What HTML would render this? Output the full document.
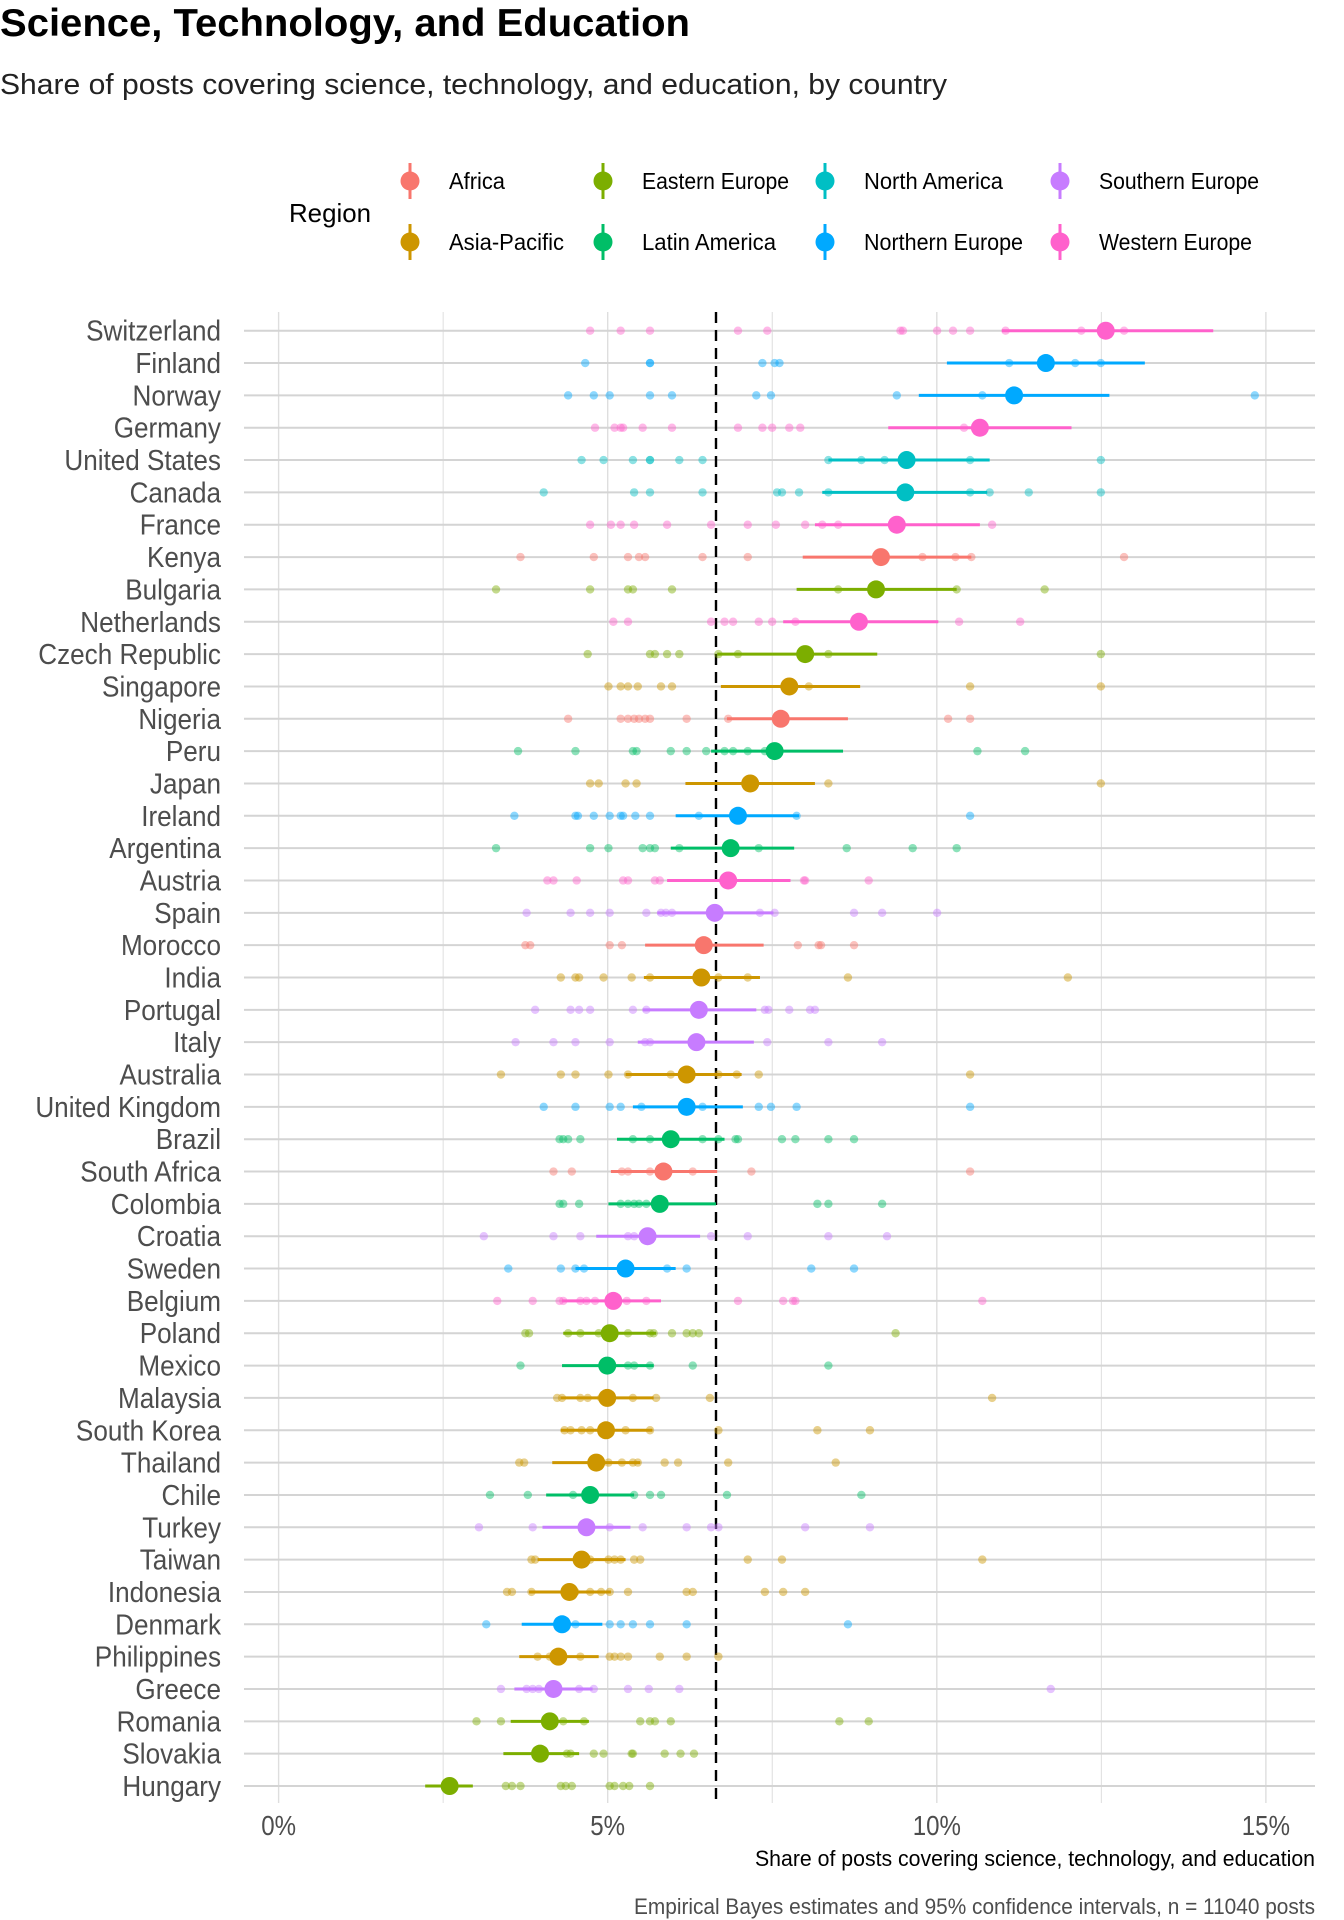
<!DOCTYPE html>
<html><head><meta charset="utf-8"><style>
html,body{margin:0;padding:0;background:#fff;}
svg{display:block;font-family:"Liberation Sans",sans-serif;}
</style></head><body>
<svg id="s" width="1344" height="1920" viewBox="0 0 1344 1920" xmlns="http://www.w3.org/2000/svg">
<rect width="1344" height="1920" fill="#fff"/>
<text x="0" y="36" font-size="39" font-weight="bold" textLength="690" lengthAdjust="spacingAndGlyphs" fill="#000">Science, Technology, and Education</text>
<text x="0" y="94" font-size="29" textLength="947" lengthAdjust="spacingAndGlyphs" fill="#222">Share of posts covering science, technology, and education, by country</text>
<text x="289" y="222" font-size="26" textLength="82" lengthAdjust="spacingAndGlyphs" fill="#000">Region</text>
<g id="leg"></g>
<g id="grid"></g>
<g id="data"></g>
<text x="1315" y="1866" font-size="22" text-anchor="end" textLength="560" lengthAdjust="spacingAndGlyphs" fill="#000">Share of posts covering science, technology, and education</text>
<text x="1315" y="1914" font-size="22" text-anchor="end" textLength="681" lengthAdjust="spacingAndGlyphs" fill="#4d4d4d">Empirical Bayes estimates and 95% confidence intervals, n = 11040 posts</text>
</svg>
<script>
var NS="http://www.w3.org/2000/svg";
function el(p,t,a,txt){var e=document.createElementNS(NS,t);for(var k in a)e.setAttribute(k,a[k]);if(txt!=null)e.textContent=txt;p.appendChild(e);return e;}
var C={A:"#F8766D",P:"#CD9600",E:"#7CAE00",L:"#00BE67",N:"#00BFC4",U:"#00A9FF",S:"#C77CFF",W:"#FF61CC"};
var leg=document.getElementById("leg");
var items=[["A","Africa",410,181,56],["P","Asia-Pacific",410,242,115],["E","Eastern Europe",603,181,147],["L","Latin America",603,242,134],["N","North America",825,181,139],["U","Northern Europe",825,242,159],["S","Southern Europe",1060,181,160],["W","Western Europe",1060,242,153]];
items.forEach(function(it){var c=C[it[0]];
el(leg,"line",{x1:it[2],x2:it[2],y1:it[3]-18,y2:it[3]+18,stroke:c,"stroke-width":3});
el(leg,"circle",{cx:it[2],cy:it[3],r:9.5,fill:c});
el(leg,"text",{x:it[2]+39,y:it[3]+8,"font-size":23,textLength:it[4],lengthAdjust:"spacingAndGlyphs",fill:"#000"},it[1]);});
var D=[
["Switzerland","W",905,820,993,[483,508,532,604,628,737,739,767,780,794,823,885,920]],
["Finland","U",856,775,937,[479,532,532,624,634,638,826,880,901]],
["Norway","U",830,752,908,[465,486,499,532,550,619,631,734,804,1027]],
["Germany","W",802,727,877,[487,503,508,510,526,550,604,624,632,646,655,789]],
["United States","N",742,678,810,[476,494,518,532,532,556,575,678,705,724,794,901]],
["Canada","N",741,673,808,[445,519,532,575,636,640,654,678,794,810,842,901]],
["France","W",734,667,802,[483,500,508,519,546,582,612,635,659,673,686,812]],
["Kenya","A",721,657,795,[426,486,514,523,528,575,612,755,782,795,920]],
["Bulgaria","E",717,652,783,[406,483,514,518,550,686,783,855]],
["Netherlands","W",703,641,768,[502,514,582,593,600,621,632,651,785,835]],
["Czech Republic","E",659,587,718,[481,532,536,546,556,588,604,678,901]],
["Singapore","P",646,590,704,[498,508,514,522,541,550,662,794,901]],
["Nigeria","A",639,595,694,[465,508,514,519,523,528,532,562,596,776,794]],
["Peru","L",634,582,690,[424,471,518,521,549,562,578,593,600,612,626,800,839]],
["Japan","P",614,561,667,[483,490,512,521,678,901]],
["Ireland","U",604,553,654,[421,471,473,486,499,508,510,520,532,572,652,794]],
["Argentina","L",598,549,650,[406,483,498,526,532,536,556,621,693,747,783]],
["Austria","W",596,546,647,[448,453,472,510,514,536,540,658,659,711]],
["Spain","S",585,538,633,[431,467,483,499,529,541,545,550,622,634,699,722,767]],
["Morocco","A",576,528,625,[430,434,499,509,653,670,672,699]],
["India","P",574,527,622,[459,471,474,494,517,532,588,612,694,874]],
["Portugal","S",572,526,619,[438,467,474,483,518,529,626,629,646,663,667]],
["Italy","S",570,522,617,[422,453,471,499,528,532,628,678,722]],
["Australia","P",562,512,607,[410,459,471,498,514,549,588,603,621,794]],
["United Kingdom","U",562,518,608,[445,471,499,508,525,575,621,631,652,794]],
["Brazil","L",549,505,593,[458,461,465,475,518,532,575,588,602,604,640,651,678,699]],
["South Africa","A",543,500,587,[453,468,509,514,532,567,615,794]],
["Colombia","L",540,498,586,[458,461,474,508,514,519,523,529,669,678,722]],
["Croatia","S",530,488,573,[396,453,475,514,519,529,582,612,678,726]],
["Sweden","U",512,471,553,[416,459,471,478,546,562,664,699]],
["Belgium","W",502,460,541,[407,436,458,461,475,480,487,513,529,604,641,649,651,804]],
["Poland","E",499,461,537,[430,433,465,475,490,514,532,535,550,562,567,572,733]],
["Mexico","L",497,460,535,[426,496,514,519,532,567,678]],
["Malaysia","P",497,459,535,[456,460,475,481,492,518,537,581,812]],
["South Korea","P",496,459,534,[462,467,476,483,499,512,532,588,669,712]],
["Thailand","P",488,452,524,[425,429,498,509,518,522,544,555,596,684]],
["Chile","L",483,447,519,[401,432,469,480,519,532,541,595,705]],
["Turkey","S",480,444,516,[392,436,478,499,526,562,582,588,659,712]],
["Taiwan","P",476,440,512,[435,438,476,483,498,503,508,519,524,612,640,804]],
["Indonesia","P",466,433,500,[415,419,435,471,483,492,499,514,562,567,626,641,659]],
["Denmark","U",460,427,493,[398,471,499,508,518,532,562,694]],
["Philippines","P",457,425,490,[440,450,475,499,503,508,514,540,562,588]],
["Greece","S",453,421,485,[410,431,436,441,450,474,486,514,531,556,860]],
["Romania","E",450,418,482,[390,410,461,478,524,532,536,549,687,711]],
["Slovakia","E",442,412,474,[464,467,486,494,517,518,544,557,568]],
["Hungary","E",368,348,387,[414,419,426,459,463,468,499,503,510,515,532]]];
var K=1.2218, Y0=330.7, DY=32.34, SX=0.9;
var g=document.getElementById("grid"), d=document.getElementById("data");
[0,2.5,5,7.5,10,12.5,15].forEach(function(p){var x=278.6+p*65.82;
el(g,"line",{x1:x,x2:x,y1:312,y2:1803,stroke:"#dedede","stroke-width":p%5==0?1.4:1});});
D.forEach(function(r,i){var y=Y0+i*DY;
el(g,"line",{x1:244,x2:1315,y1:y,y2:y,stroke:"#d4d4d4","stroke-width":2});
el(g,"text",{x:221/SX,y:y+10,"font-size":29,"text-anchor":"end",fill:"#4d4d4d",transform:"scale("+SX+",1)"},r[0]);});
el(g,"line",{x1:716,x2:716,y1:312,y2:1803,stroke:"#000","stroke-width":2.4,"stroke-dasharray":"11,7"});
["0%","5%","10%","15%"].forEach(function(t,i){el(g,"text",{x:(278.6+i*5*65.82)/0.86,y:1835,"font-size":28,"text-anchor":"middle",fill:"#4d4d4d",transform:"scale(0.86,1)"},t);});
D.forEach(function(r,i){var y=Y0+i*DY,c=C[r[1]];
r[5].forEach(function(x){el(d,"circle",{cx:x*K,cy:y,r:4.2,fill:c,"fill-opacity":0.45});});
el(d,"line",{x1:r[3]*K,x2:r[4]*K,y1:y,y2:y,stroke:c,"stroke-width":3});
el(d,"circle",{cx:r[2]*K,cy:y,r:9,fill:c});});
</script>
</body></html>
